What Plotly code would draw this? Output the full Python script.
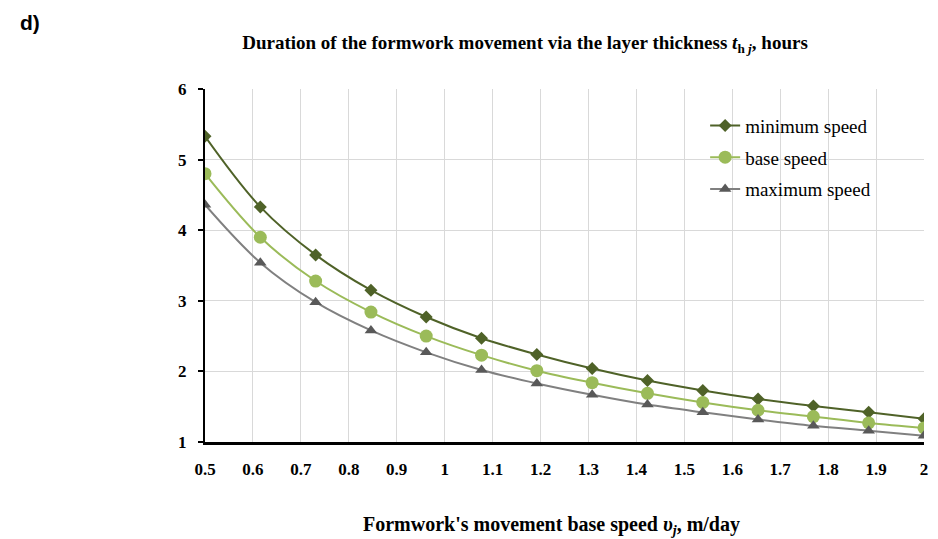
import plotly.graph_objects as go

speed = [0.5, 0.6154, 0.7308, 0.8462, 0.9615, 1.0769, 1.1923, 1.3077,
         1.4231, 1.5385, 1.6538, 1.7692, 1.8846, 2.0]
min_speed = [5.33, 4.33, 3.65, 3.15, 2.77, 2.47, 2.24, 2.04, 1.87, 1.73, 1.61, 1.51, 1.42, 1.33]
base_speed = [4.80, 3.90, 3.28, 2.84, 2.50, 2.23, 2.01, 1.84, 1.69, 1.56, 1.45, 1.36, 1.27, 1.20]
max_speed = [4.36, 3.54, 2.98, 2.58, 2.27, 2.02, 1.83, 1.67, 1.53, 1.42, 1.32, 1.23, 1.16, 1.09]
x_ticks = [0.5, 0.6, 0.7, 0.8, 0.9, 1, 1.1, 1.2, 1.3, 1.4, 1.5, 1.6, 1.7, 1.8, 1.9, 2]
y_ticks = [1, 2, 3, 4, 5, 6]

serif = "Liberation Serif, Times New Roman, serif"

fig = go.Figure()
fig.add_trace(go.Scatter(x=speed, y=min_speed, name="minimum speed", mode="lines+markers",
                         legendgroup="a",
                         line=dict(color="#4F6228", width=2, shape="spline"),
                         marker=dict(symbol="diamond", size=10, color="#4F6228")))
fig.add_trace(go.Scatter(x=speed, y=base_speed, name="base speed", mode="lines+markers",
                         legendgroup="b",
                         line=dict(color="#9BBB59", width=2, shape="spline"),
                         marker=dict(symbol="circle", size=13, color="#9BBB59")))
fig.add_trace(go.Scatter(x=speed, y=max_speed, name="maximum speed", mode="lines+markers",
                         legendgroup="c",
                         line=dict(color="#808080", width=2, shape="spline"),
                         marker=dict(symbol="triangle-up", size=11, color="#595959")))

fig.update_layout(
    width=938, height=539,
    margin=dict(l=205, r=14, t=89, b=97, autoexpand=False),
    paper_bgcolor="white", plot_bgcolor="white",
    font=dict(family=serif, color="black"),
    title=dict(text="<b>Duration of the formwork movement via the layer thickness <i>t</i><sub>h <i>j</i></sub>, hours</b>",
               x=525 / 938, xanchor="center", y=1 - 42 / 539, yanchor="middle",
               font=dict(size=19, family=serif, color="black")),
    legend=dict(x=0.6956, y=0.95, xanchor="left", yanchor="top",
                font=dict(size=19, family=serif, color="black"),
                bgcolor="rgba(0,0,0,0)", tracegroupgap=4, traceorder="grouped"),
    showlegend=True,
)
fig.update_xaxes(range=[0.5, 2], tickvals=x_ticks, ticktext=["<b>%s</b>" % t for t in x_ticks],
                 showgrid=True, gridcolor="#D9D9D9", gridwidth=1,
                 showline=True, linecolor="black", linewidth=2.5,
                 ticks="", tickfont=dict(size=17, family=serif, color="black"),
                 ticklabelstandoff=10, zeroline=False, automargin=False)
fig.update_yaxes(range=[1, 6], tickvals=y_ticks, ticktext=["<b>%s</b>" % t for t in y_ticks],
                 showgrid=True, gridcolor="#D9D9D9", gridwidth=1,
                 showline=True, linecolor="black", linewidth=2,
                 ticks="outside", ticklen=5, tickcolor="black", tickwidth=2,
                 tickfont=dict(size=17, family=serif, color="black"),
                 ticklabelstandoff=8, zeroline=False, automargin=False)

fig.add_annotation(text="<b>Formwork's movement base speed <i>υ<sub>j</sub></i>, m/day</b>",
                   xref="paper", yref="paper",
                   x=(551 - 205) / 719, y=-(525 - 442) / 353,
                   xanchor="center", yanchor="middle", showarrow=False,
                   font=dict(size=20, family=serif, color="black"))
fig.add_annotation(text="<b>d)</b>", xref="paper", yref="paper",
                   x=-(205 - 18) / 719, y=1 + (89 - 22) / 353,
                   xanchor="left", yanchor="middle", showarrow=False,
                   font=dict(size=21, family="Liberation Sans, Arial, sans-serif", color="black"))

fig.write_html("out.html", config={"displayModeBar": False},
               post_script="document.body.style.margin='0px';")
